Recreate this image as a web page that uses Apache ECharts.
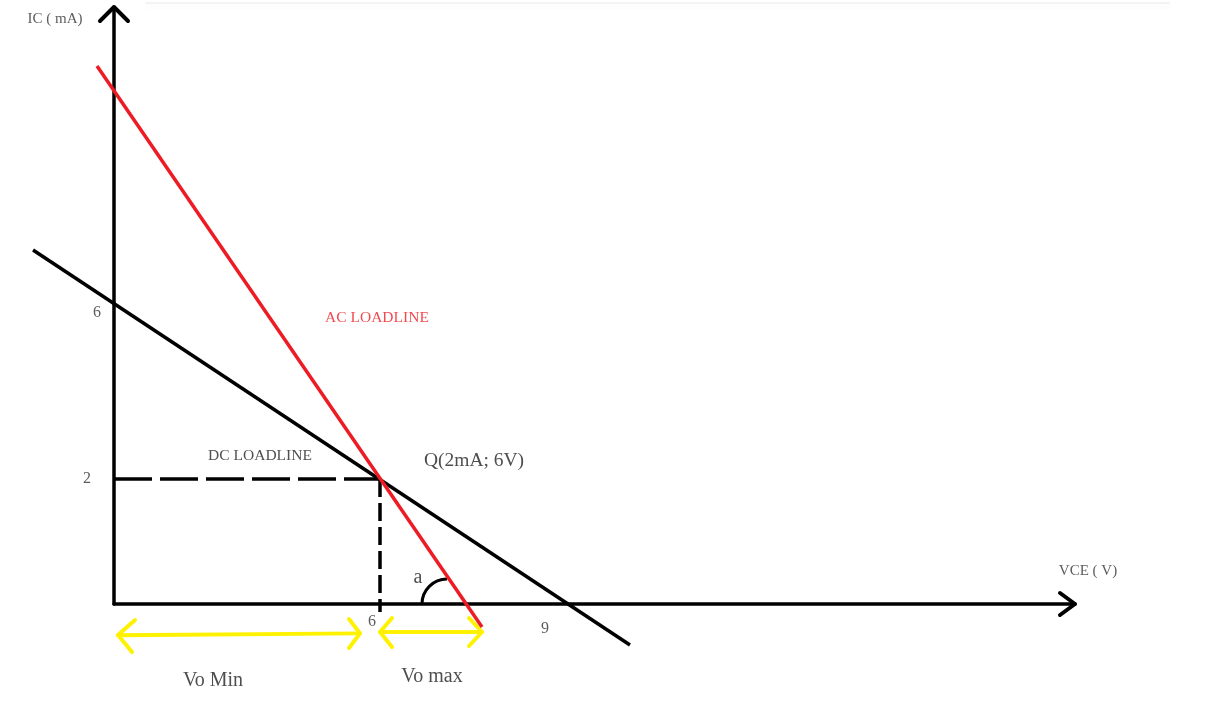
<!DOCTYPE html>
<html><head><meta charset="utf-8">
<script src="https://cdn.jsdelivr.net/npm/echarts@6/dist/echarts.min.js"></script>
<style>html,body{margin:0;padding:0;background:#fff}#c{width:1229px;height:707px}</style>
</head><body><div id="c"></div>
<script>
// ---- Data (sketch units: Q point at VCE=6, IC=2) ----
const dcLoadline = [[-1.827, 5.664], [11.639, -0.656]];
const acLoadline = [[-0.383, 8.608], [8.301, -0.368]];
const qPoint = [6, 2];
const icDash = [[0, 2], [6, 2]];
const vceDash = [[6, 2], [6, -0.128]];
const yArrowHead = [[-0.316, 9.328], [0, 9.552], [0.316, 9.328]];
const xArrowHead = [[21.339, 0.176], [21.677, 0], [21.339, -0.176]];
const voMinArrow = [
  [[0.474, -0.256], [0.090, -0.496], [0.406, -0.768]],
  [[0.090, -0.500], [5.549, -0.470]],
  [[5.301, -0.240], [5.549, -0.470], [5.301, -0.704]]
];
const voMaxArrow = [
  [[6.271, -0.224], [6.000, -0.448], [6.271, -0.688]],
  [[6.000, -0.448], [8.301, -0.448]],
  [[8.008, -0.224], [8.301, -0.448], [8.008, -0.672]]
];
const angleArc = [[7.511, 0, 0.564]]; // centre x, centre y, radius (x units)
const yTickValues = [[-0.383, 4.664], [-0.609, 2.0]];
const yTickLabels = ['6', '2'];
const xTickValues = [[5.82, -0.288], [9.722, -0.40]];
const xTickLabels = ['6', '9'];
const axisNames = [
  {text: 'IC ( mA)', at: [-1.331, 9.36]},
  {text: 'VCE ( V)', at: [21.97, 0.528]}
];
const notes = [
  {text: 'AC LOADLINE', at: [5.932, 4.576], kind: 'red'},
  {text: 'DC LOADLINE', at: [3.293, 2.368], kind: 'small'},
  {text: 'Q(2mA; 6V)', at: [8.12, 2.288], kind: 'q'},
  {text: 'a', at: [6.857, 0.416], kind: 'big'},
  {text: 'Vo Min', at: [2.233, -1.232], kind: 'big'},
  {text: 'Vo max', at: [7.173, -1.168], kind: 'big'}
];
const topShadow = [[0.699, 9.616], [23.82, 9.616]];

// ---- Styles ----
const FONT = '"Liberation Serif", "Times New Roman", serif';
const RED = '#ed1c24', YELLOW = '#fff200', INK = '#000', TEXT = '#222';
const textStyles = {
  axis: {fontSize: 15, color: '#333'},
  tick: {fontSize: 16, color: '#333'},
  small: {fontSize: 15.5, color: TEXT},
  red: {fontSize: 15.5, color: RED},
  q: {fontSize: 19.5, color: TEXT},
  big: {fontSize: 20, color: TEXT}
};

function textItem(at, text, kind) {
  const s = textStyles[kind];
  return {value: at, label: {show: true, formatter: text, fontSize: s.fontSize, color: s.color,
    fontFamily: FONT, position: 'inside', align: 'center', verticalAlign: 'middle'}};
}
const textData = []
  .concat(axisNames.map(a => textItem(a.at, a.text, 'axis')))
  .concat(yTickValues.map((v, i) => textItem(v, yTickLabels[i], 'tick')))
  .concat(xTickValues.map((v, i) => textItem(v, xTickLabels[i], 'tick')))
  .concat(notes.map(n => textItem(n.at, n.text, n.kind)));

function polyLines(list, style, z) {
  return {type: 'lines', coordinateSystem: 'cartesian2d', polyline: true, clip: false, silent: true,
    z: z || 2, data: list.map(c => ({coords: c})),
    lineStyle: Object.assign({opacity: 1, cap: 'round', join: 'round'}, style)};
}

const chart = echarts.init(document.getElementById('c'), null, {renderer: 'canvas'});
chart.setOption({
  animation: false,
  backgroundColor: '#fff',
  grid: {left: 114, right: 154, top: 7, bottom: 103, containLabel: false},
  xAxis: {type: 'value', min: 0, max: 21.677,
    axisLine: {show: true, onZero: false, lineStyle: {color: INK, width: 3.5}},
    axisTick: {show: false}, axisLabel: {show: false}, splitLine: {show: false}},
  yAxis: {type: 'value', min: 0, max: 9.552,
    axisLine: {show: true, onZero: false, lineStyle: {color: INK, width: 3.5}},
    axisTick: {show: false}, axisLabel: {show: false}, splitLine: {show: false}},
  series: [
    polyLines([topShadow], {color: '#e9e9e9', width: 1, cap: 'butt', shadowColor: 'rgba(0,0,0,0.10)', shadowBlur: 6, shadowOffsetY: 3}, 1),
    polyLines([icDash], {color: INK, width: 3.5, type: [38, 8], cap: 'butt'}),
    polyLines([vceDash], {color: INK, width: 3.5, type: [18, 6], cap: 'butt'}),
    polyLines([dcLoadline], {color: INK, width: 3.5, cap: 'butt'}),
    polyLines([acLoadline], {color: RED, width: 3.5, cap: 'butt'}, 3),
    polyLines([yArrowHead, xArrowHead], {color: INK, width: 4}),
    polyLines(voMinArrow.concat(voMaxArrow), {color: YELLOW, width: 4}),
    {type: 'custom', coordinateSystem: 'cartesian2d', clip: false, silent: true,
      data: angleArc, encode: {x: 0, y: 1},
      renderItem: function (params, api) {
        const c = api.coord([api.value(0), api.value(1)]);
        const r = api.size([api.value(2), 0])[0];
        return {type: 'arc', shape: {cx: c[0], cy: c[1], r: r, startAngle: Math.PI, endAngle: Math.PI * 1.5, clockwise: true},
          style: {stroke: INK, lineWidth: 3, fill: null}};
      }},
    {type: 'scatter', data: textData, clip: false, silent: true, symbolSize: 1,
      itemStyle: {color: 'transparent'}, z: 5}
  ]
});
</script></body></html>
